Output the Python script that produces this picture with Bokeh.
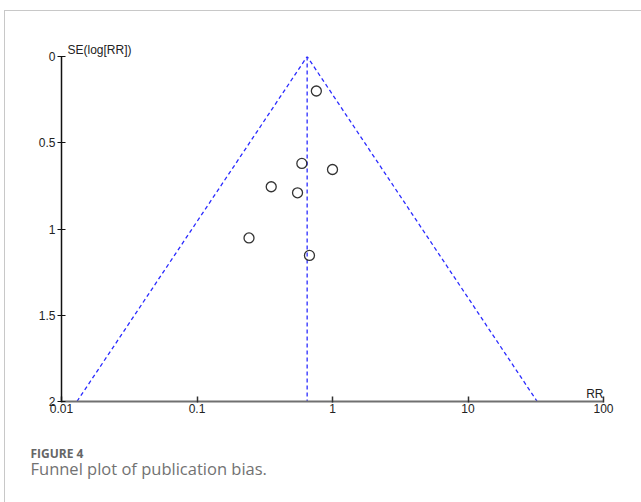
from bokeh.plotting import figure
from bokeh.models import (Range1d, FixedTicker, CustomJSTickFormatter, Label,
                          ColumnDataSource, Title, InlineStyleSheet)
from bokeh.embed import file_html
from bokeh.resources import INLINE

# ---- data ----
study_rr = [0.76, 0.594, 1.0, 0.353, 0.552, 0.242, 0.676]
study_se = [0.20, 0.62, 0.655, 0.755, 0.79, 1.052, 1.153]

pooled_rr = 0.65
pooled_se = [0.0, 2.0]
funnel_rr = [0.013, 0.65, 32.4]
funnel_se = [2.0, 0.0, 2.0]

x_ticks = [0.01, 0.1, 1, 10, 100]
y_ticks = [0, 0.5, 1, 1.5, 2]

x_title = "RR"
y_title = "SE(log[RR])"
caption_head = "FIGURE 4"
caption_text = "Funnel plot of publication bias."

AXFONT = "'Liberation Sans Narrow', 'Liberation Sans', Arial, sans-serif"
CAPFONT = "'Open Sans', sans-serif"

W, H = 625, 486
p = figure(width=W, height=H, x_axis_type="log",
           x_range=Range1d(0.01, 100), y_range=Range1d(2, 0),
           output_backend="svg", toolbar_location=None,
           min_border_left=61, min_border_right=22,
           min_border_top=56, min_border_bottom=85)
p.outline_line_color = None
p.grid.visible = False
p.background_fill_color = "white"
p.border_fill_color = "white"

# outer light frame (left and top edges of the figure card)
p.stylesheets = [InlineStyleSheet(css="""
:host { position: relative; }
:host::after { content: ""; position: absolute; left: 4px; top: 10px;
  right: -40px; bottom: -40px; border-left: 1px solid #c8c8c8;
  border-top: 1px solid #c8c8c8; pointer-events: none; z-index: 5; }
""")]

# axes
xa = p.xaxis[0]
xa.ticker = FixedTicker(ticks=x_ticks, minor_ticks=[])
xa.formatter = CustomJSTickFormatter(code="return tick.toString();")
xa.axis_line_color = "#707070"
xa.axis_line_width = 2
xa.major_tick_line_color = "#333333"
xa.major_tick_line_width = 1.5
xa.major_tick_in = 5
xa.major_tick_out = 1
xa.minor_tick_line_color = None
xa.major_label_standoff = 1
xa.major_label_text_font = AXFONT
xa.major_label_text_font_size = "12px"
xa.major_label_text_color = "#222222"

ya = p.yaxis[0]
ya.ticker = FixedTicker(ticks=y_ticks, minor_ticks=[])
ya.formatter = CustomJSTickFormatter(code="return tick.toString();")
ya.axis_line_color = "#111111"
ya.axis_line_width = 1.5
ya.major_tick_line_color = "#111111"
ya.major_tick_line_width = 1.2
ya.major_tick_in = 4
ya.major_tick_out = 4
ya.minor_tick_line_color = None
ya.major_label_standoff = 2
ya.major_label_text_font = AXFONT
ya.major_label_text_font_size = "12px"
ya.major_label_text_color = "#222222"

# funnel
p.line(funnel_rr, funnel_se, line_color="#2b2bff", line_width=1.3, line_dash="4 3")
p.line([pooled_rr, pooled_rr], pooled_se, line_color="#2b2bff", line_width=1.3, line_dash="4 3")

# studies
src = ColumnDataSource(dict(rr=study_rr, se=study_se))
p.scatter("rr", "se", source=src, marker="circle", size=10, fill_color=None,
          line_color="#333333", line_width=1.3)

# axis titles
p.add_layout(Title(text=y_title, align="left", offset=6, standoff=0,
                   text_font=AXFONT, text_font_size="12px", text_font_style="normal",
                   text_color="#222222"), "above")
p.add_layout(Label(x=603, y=393, x_units="canvas", y_units="canvas", text=x_title,
                   text_font=AXFONT, text_font_size="12px", text_color="#222222",
                   text_baseline="alphabetic", text_align="right"))

# caption (a thin spacer panel keeps it clear of the axis)
p.add_layout(Title(text=" ", standoff=24, text_font_size="1px",
                   text_color="white"), "below")
p.add_layout(Title(text=caption_head, align="left", offset=-31, standoff=0,
                   text_font=CAPFONT, text_font_size="12px", text_font_style="bold",
                   text_color="#666666"), "below")
p.add_layout(Title(text=caption_text, align="left", offset=-31, standoff=-13,
                   text_font=CAPFONT, text_font_size="16.5px", text_font_style="normal",
                   text_color="#727272"), "below")

open("out.html", "w").write(file_html(p, INLINE))
